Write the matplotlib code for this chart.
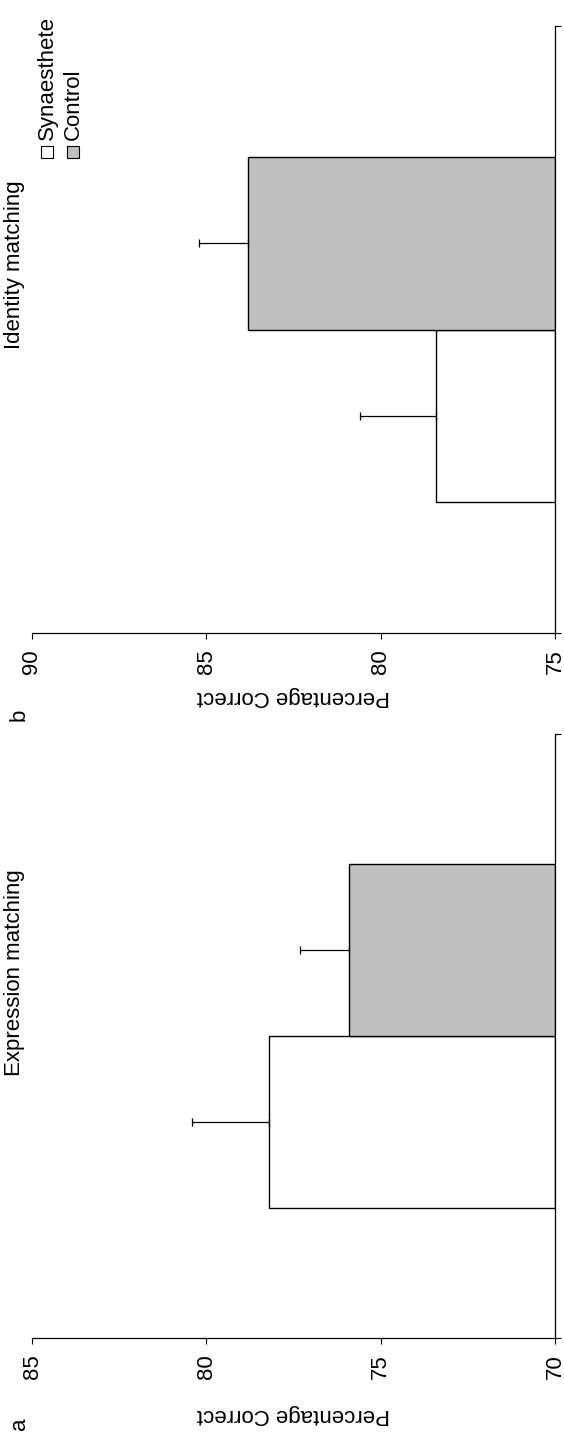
import matplotlib.pyplot as plt
from matplotlib.patches import Rectangle

plt.rcParams['font.family'] = ['Liberation Sans', 'DejaVu Sans']

# groups and bar colours
groups = ['Synaesthete', 'Control']
colours = ['white', '#c0c0c0']

# mean percentage correct and error (one-sided bars)
expr_mean = [78.2, 75.9]
expr_err = [2.2, 1.4]
ident_mean = [78.4, 83.8]
ident_err = [2.2, 1.4]

expr_ticks = [70, 75, 80, 85]
ident_ticks = [75, 80, 85, 90]

W, H = 564, 1437
fig = plt.figure(figsize=(W / 100, H / 100), dpi=100)


def px(x, y):
    return x / W, 1 - y / H


def panel(rect, means, errs, ticks, title, letter, title_y, label_y, letter_y):
    ax = fig.add_axes(rect)
    ypos = [-0.5, 0.5]
    base = ticks[0]
    for yy, m, c in zip(ypos, means, colours):
        ax.barh(yy, m - base, left=base, height=1.0, color=c,
                edgecolor='black', linewidth=1.0)
    ax.errorbar(means, ypos, xerr=[[0, 0], errs], fmt='none', ecolor='black',
                elinewidth=0.9, capsize=3, capthick=0.9)
    ax.set_xlim(ticks[-1], ticks[0])
    ax.set_ylim(-1.76, 1.76)
    ax.set_xticks(ticks)
    ax.set_xticklabels([str(t) for t in ticks], rotation=90, fontsize=16)
    ax.set_yticks([-1.76, 1.76])
    ax.set_yticklabels([])
    ax.tick_params(axis='x', direction='out', length=4, width=0.8, pad=8)
    ax.tick_params(axis='y', left=False, right=True, direction='out',
                   length=4, width=0.8)
    for s in ['top', 'left']:
        ax.spines[s].set_visible(False)
    for s in ['bottom', 'right']:
        ax.spines[s].set_linewidth(0.9)
    ax.set_facecolor('none')

    fig.text(*px(293, label_y), 'Percentage Correct', rotation=180,
             ha='center', va='center', fontsize=16)
    fig.text(*px(19, letter_y), letter, rotation=90,
             ha='center', va='center', fontsize=16)
    fig.text(*px(15, title_y), title, rotation=90,
             ha='center', va='center', fontsize=16)
    return ax


# panel b (top) and panel a (bottom)
panel([32 / W, 1 - 633 / H, 523 / W, 607 / H], ident_mean, ident_err,
      ident_ticks, 'Identity matching', 'b', 265, 697, 715)
panel([32 / W, 1 - 1338 / H, 523 / W, 604 / H], expr_mean, expr_err,
      expr_ticks, 'Expression matching', 'a', 973, 1414, 1424)

# legend
for i, (g, c) in enumerate(zip(groups, colours)):
    x = 47 + 26 * i
    fig.add_artist(Rectangle(px(x - 6, 158), 12 / W, 12 / H, facecolor=c,
                             edgecolor='black', linewidth=0.8,
                             transform=fig.transFigure))
    fig.text(*px(x, 140), g, rotation=90, ha='center', va='bottom',
             fontsize=16)

fig.savefig('out.png', dpi=100)
